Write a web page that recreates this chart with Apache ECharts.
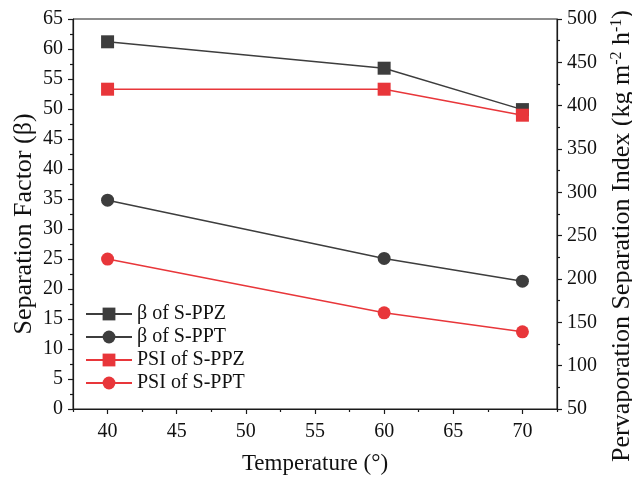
<!DOCTYPE html>
<html>
<head>
<meta charset="utf-8">
<script src="https://cdn.jsdelivr.net/npm/echarts@6/dist/echarts.min.js"></script>
<style>html,body{margin:0;padding:0;background:#fff;}#c{width:632px;height:479px;}</style>
</head>
<body>
<div id="c"></div>
<script>
const temperatures = [40, 60, 70];
const betaPPZ = [61.2, 56.8, 49.9];
const betaPPT = [34.8, 25.1, 21.3];
const psiPPZ = [419, 419, 389];
const psiPPT = [223, 161, 139];
const seriesNames = ['β of S-PPZ', 'β of S-PPT', 'PSI of S-PPZ', 'PSI of S-PPT'];
const xMajorTicks = [40, 45, 50, 55, 60, 65, 70];
const xMinorTicks = [37.5, 42.5, 47.5, 52.5, 57.5, 62.5, 67.5, 72.5];

const FONT = 'Liberation Serif';
const DARK = '#3d3d3d';
const RED = '#e8363a';
const AX = '#1a1a1a';

function pairs(vals) { return temperatures.map((t, i) => [t, vals[i]]); }

const chart = echarts.init(document.getElementById('c'));
chart.setOption({
  animation: false,
  textStyle: { fontFamily: FONT },
  grid: { left: 73, right: 75, top: 19, bottom: 70, containLabel: false, outerBoundsMode: 'none',
    show: true, borderColor: AX, borderWidth: 1, backgroundColor: 'transparent' },
  legend: {
    orient: 'vertical', left: 80, top: 299,
    itemWidth: 46, itemHeight: 16, itemGap: 3,
    textStyle: { fontFamily: FONT, fontSize: 20, color: '#111' },
    data: seriesNames
  },
  xAxis: [{
    type: 'value', min: 37.5, max: 72.5, position: 'bottom',
    name: 'Temperature (°)', nameLocation: 'middle', nameGap: 43,
    nameTextStyle: { fontFamily: FONT, fontSize: 23, color: '#111' },
    axisLine: { show: true, lineStyle: { color: AX, width: 1.2 } },
    axisTick: { show: true, inside: false, length: 5, customValues: xMajorTicks, lineStyle: { color: AX, width: 1.2 } },
    axisLabel: { customValues: xMajorTicks, margin: 13, fontFamily: FONT, fontSize: 20, color: '#111' },
    splitLine: { show: false }
  }, {
    type: 'value', min: 37.5, max: 72.5, position: 'bottom',
    axisLine: { show: false },
    axisTick: { show: true, inside: false, length: 3, customValues: xMinorTicks, lineStyle: { color: AX, width: 1.2 } },
    axisLabel: { show: false },
    splitLine: { show: false }
  }],
  yAxis: [{
    type: 'value', min: 0, max: 65, interval: 5, position: 'left',
    name: 'Separation Factor (β)', nameLocation: 'middle', nameGap: 36, nameMoveOverlap: false,
    nameTextStyle: { fontFamily: FONT, fontSize: 26, color: '#111', padding: [0, 20, 0, 0] },
    axisLine: { show: true, lineStyle: { color: AX, width: 1.2 } },
    axisTick: { show: true, inside: false, length: 5, lineStyle: { color: AX, width: 1.2 } },
    minorTick: { show: true, splitNumber: 2, length: 3, lineStyle: { color: AX, width: 1.2 } },
    axisLabel: { margin: 10, fontFamily: FONT, fontSize: 20, color: '#111' },
    splitLine: { show: false }
  }, {
    type: 'value', min: 50, max: 500, interval: 50, position: 'right',
    name: 'Pervaporation Separation Index (kg m{sup|-2} h{sup|-1})', nameLocation: 'middle', nameGap: 52,
    nameTextStyle: { fontFamily: FONT, fontSize: 26, color: '#111', padding: [0, 44, 0, 0],
      rich: { sup: { fontFamily: FONT, fontSize: 16, verticalAlign: 'top', color: '#111' } } },
    axisLine: { show: true, lineStyle: { color: AX, width: 1.2 } },
    axisTick: { show: true, inside: false, length: 5, lineStyle: { color: AX, width: 1.2 } },
    minorTick: { show: true, splitNumber: 2, length: 3, lineStyle: { color: AX, width: 1.2 } },
    axisLabel: { margin: 10, fontFamily: FONT, fontSize: 20, color: '#111' },
    splitLine: { show: false }
  }],
  series: [
    { name: seriesNames[0], type: 'line', xAxisIndex: 0, yAxisIndex: 0, data: pairs(betaPPZ), symbol: 'rect', symbolSize: 13,
      lineStyle: { color: DARK, width: 1.5 }, itemStyle: { color: DARK } },
    { name: seriesNames[1], type: 'line', xAxisIndex: 0, yAxisIndex: 0, data: pairs(betaPPT), symbol: 'circle', symbolSize: 13,
      lineStyle: { color: DARK, width: 1.5 }, itemStyle: { color: DARK } },
    { name: seriesNames[2], type: 'line', xAxisIndex: 0, yAxisIndex: 1, data: pairs(psiPPZ), symbol: 'rect', symbolSize: 13,
      lineStyle: { color: RED, width: 1.5 }, itemStyle: { color: RED } },
    { name: seriesNames[3], type: 'line', xAxisIndex: 0, yAxisIndex: 1, data: pairs(psiPPT), symbol: 'circle', symbolSize: 13,
      lineStyle: { color: RED, width: 1.5 }, itemStyle: { color: RED } }
  ]
});
</script>
</body>
</html>
